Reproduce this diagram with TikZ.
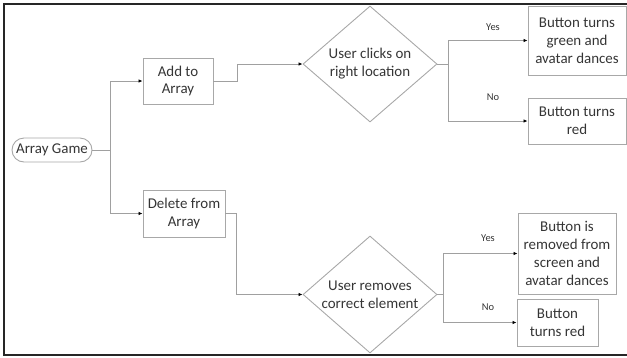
\documentclass[tikz,border=0pt]{standalone}
\usepackage{fontspec}
\setmainfont{Carlito}
\usetikzlibrary{shapes.geometric,arrows.meta}
\definecolor{linegray}{HTML}{A0A0A0}
\definecolor{boxgray}{HTML}{A8A8A8}
\definecolor{txtgray}{HTML}{353535}
\begin{document}
\begin{tikzpicture}[x=1bp,y=-1bp,
  every node/.style={text=txtgray,font=\fontsize{15}{18}\selectfont},
  box/.style={draw=boxgray,line width=0.9bp,rectangle,align=center,inner sep=1bp},
  dec/.style={draw=boxgray,line width=0.9bp,shape=diamond,aspect=1.155,align=center,inner sep=0bp},
  conn/.style={draw=linegray,line width=0.9bp},
  arr/.style={conn,-{Latex[length=4bp,width=3.5bp,black]}},
  lbl/.style={font=\fontsize{10.5}{12}\selectfont}]
\useasboundingbox (0,0) rectangle (627,357);
% frame
\draw[line width=2bp,black!85] (627,4) -- (4,4) -- (4,355) -- (627,355);
% nodes
\node[draw=boxgray,line width=0.9bp,rounded corners=12bp,minimum width=80bp,minimum height=24bp,inner sep=0bp] (game) at (52,150) {Array Game};
\node[box,minimum width=70bp,minimum height=46bp] (add) at (178,81) {Add to\\Array};
\node[box,minimum width=82bp,minimum height=47bp] (del) at (184,213.5) {Delete from\\Array};
\node[dec,minimum width=134bp,minimum height=116bp] (d1) at (370,64) {User clicks on\\right location};
\node[dec,minimum width=134bp,minimum height=117bp] (d2) at (370,294.5) {User removes\\correct element};
\node[box,minimum width=98bp,minimum height=69bp] (y1) at (577,40.5) {Button turns\\green and\\avatar dances};
\node[box,minimum width=98bp,minimum height=46bp] (n1) at (577,121) {Button turns\\red};
\node[box,minimum width=98bp,minimum height=81bp] (y2) at (567,253.5) {Button is\\removed from\\screen and\\avatar dances};
\node[box,minimum width=81bp,minimum height=47bp] (n2) at (557.5,322.5) {Button\\turns red};
% labels
\node[lbl] (ly1) at (493,27) {Yes};
\node[lbl] (ln1) at (493,97) {No};
\node[lbl] (ly2) at (488,238) {Yes};
\node[lbl] (ln2) at (488,307) {No};
% connectors
\draw[arr] (game.east) -- ++(18,0) |- (add.west);
\draw[arr] (game.east) -- ++(18,0) |- (del.west);
\draw[arr] (add.east) -- ++(24,0) |- (d1.west);
\draw[arr] (del.east) -- ++(11,0) |- (d2.west);
\draw[arr] (d1.east) -- ++(11,0) |- (y1.west);
\draw[arr] (d1.east) -- ++(11,0) |- (n1.west);
\draw[arr] (d2.east) -- ++(6,0) |- (y2.west);
\draw[arr] (d2.east) -- ++(6,0) |- (n2.west);
\end{tikzpicture}
\end{document}
